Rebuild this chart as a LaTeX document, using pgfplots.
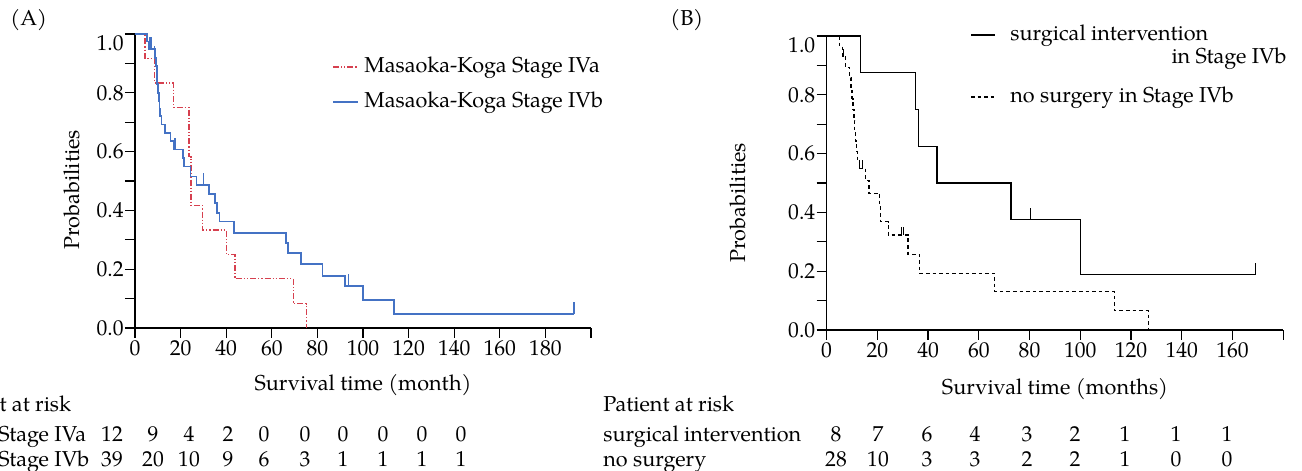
\documentclass[border=0pt]{standalone}
\usepackage{fontspec}
\setmainfont{texgyrepagella}[Extension=.otf,UprightFont=*-regular,BoldFont=*-bold,ItalicFont=*-italic,BoldItalicFont=*-bolditalic]
\usepackage{pgfplots}
\pgfplotsset{compat=1.18}
\definecolor{kmred}{RGB}{214,64,79}
\definecolor{kmblue}{RGB}{68,114,196}
\pgfdeclareplotmark{cens}{\pgfpathmoveto{\pgfpointorigin}\pgfpathlineto{\pgfpoint{0pt}{\pgfplotmarksize}}\pgfusepathqstroke}
\begin{document}
\fontsize{10.8}{13}\selectfont
\begin{tikzpicture}
\useasboundingbox (0,0) rectangle (651pt,235.5pt);
\pgfplotsset{kmaxis/.style={scale only axis, axis lines=left,
  axis line style={-, line width=0.65pt, black},
  tick align=outside, major tick length=5pt,
  tick style={line width=0.65pt, black},
  ymin=0, ymax=1,
  ytick={0,0.1,0.2,0.3,0.4,0.5,0.6,0.7,0.8,0.9,1},
  yticklabels={0.0,{},0.2,{},0.4,{},0.6,{},0.8,{},\raisebox{-4.5pt}[7.4pt][0pt]{1.0}},
  ticklabel style={font=\fontsize{10.8}{13}\selectfont},
  yticklabel style={inner sep=0.5pt},
  xticklabel style={inner sep=1pt},
  clip=false, height=147pt}}
% ---------- Panel A ----------
\begin{axis}[kmaxis, at={(67.5pt,71.5pt)}, anchor=south west, width=228pt,
  xmin=0, xmax=200, xtick={0,20,...,200},
  xticklabels={0,20,40,60,80,100,120,140,160,180,{}}]
\addplot[const plot, kmred, line width=0.6pt, dash pattern=on 3pt off 1pt on 0.6pt off 1pt on 0.6pt off 1pt]
 coordinates {(0,1)(4.4,0.917)(8.5,0.833)(17,0.75)(23.7,0.583)(24.6,0.417)(29.5,0.333)(40,0.25)(43.9,0.167)(69.4,0.083)(75.1,0)};
\addplot[const plot, kmblue, line width=0.85pt]
 coordinates {(0,1)(5.3,0.974)(6.0,0.948)(8.8,0.918)(9.2,0.89)(9.5,0.86)(9.8,0.83)(10.1,0.80)(10.4,0.77)(10.8,0.745)(11.1,0.72)(11.6,0.692)(13.3,0.663)(15.6,0.635)(17.1,0.607)(21.2,0.578)(21.5,0.549)(24.4,0.515)(27,0.486)(32.4,0.455)(35.1,0.424)(36.1,0.39)(37,0.362)(43.4,0.322)(66.3,0.29)(67.1,0.254)(72.8,0.217)(82.3,0.178)(92.1,0.143)(100.1,0.095)(113.7,0.048)(192.4,0.048)};
\addplot[only marks, mark=cens, mark size=6pt, mark options={solid, line width=0.85pt, kmblue}]
 coordinates {(6.4,0.948)(6.9,0.948)(8.6,0.918)(17.4,0.607)(30,0.486)(93.6,0.143)(192.4,0.048)};
\end{axis}
% ---------- Panel B ----------
\begin{axis}[kmaxis, at={(413.3pt,70.5pt)}, anchor=south west, width=228.3pt,
  xmin=0, xmax=180, xtick={0,20,...,180},
  xticklabels={0,20,40,60,80,100,120,140,160,{}}]
\addplot[const plot, black, line width=0.55pt]
 coordinates {(0,1)(13.4,0.875)(35.2,0.75)(36.2,0.625)(43.5,0.5)(72.7,0.375)(100.1,0.1875)(169.1,0.1875)};
\addplot[const plot, black, line width=0.55pt, dash pattern=on 1.8pt off 1.5pt]
 coordinates {(0,1)(5.2,0.964)(6.2,0.929)(7.5,0.893)(9.2,0.857)(9.6,0.821)(10.0,0.786)(10.4,0.75)(10.8,0.714)(11.1,0.679)(11.5,0.643)(11.9,0.607)(12.3,0.571)(13.0,0.55)(15.4,0.51)(16.7,0.465)(21,0.42)(21.3,0.368)(24.3,0.323)(32.1,0.258)(36.6,0.193)(66.3,0.13)(113.5,0.065)(126.9,0)};
\addplot[only marks, mark=cens, mark size=6pt, mark options={solid, line width=0.55pt, black}]
 coordinates {(80.3,0.375)(169.1,0.1875)};
\addplot[only marks, mark=cens, mark size=4pt, mark options={solid, line width=0.5pt, black}]
 coordinates {(6.5,0.929)(12.8,0.55)(14.2,0.55)(29.5,0.323)(30.5,0.323)};
\end{axis}
% ---------- labels ----------
\node[inner sep=0pt, anchor=mid west] at (5pt,225.5pt) {(A)};
\node[inner sep=0pt, anchor=mid west] at (335pt,225.5pt) {(B)};
\node[inner sep=0pt, rotate=90] at (36pt,140.5pt) {Probabilities};
\node[inner sep=0pt, rotate=90] at (369pt,134pt) {Probabilities};
\node[inner sep=0pt, anchor=mid] at (181.5pt,43pt) {Survival time (month)};
\node[inner sep=0pt, anchor=mid] at (527.5pt,41pt) {Survival time (months)};
% legend A
\draw[kmred, line width=0.6pt, dash pattern=on 3pt off 1pt on 0.6pt off 1pt on 0.6pt off 1pt] (166.5pt,202pt) -- (179pt,202pt);
\node[inner sep=0pt, anchor=mid west] at (182pt,202pt) {Masaoka-Koga Stage IVa};
\draw[kmblue, line width=0.85pt] (166.5pt,184.5pt) -- (179pt,184.5pt);
\node[inner sep=0pt, anchor=mid west] at (182pt,184.5pt) {Masaoka-Koga Stage IVb};
% legend B
\draw[black, line width=0.55pt] (485.5pt,218pt) -- (497.5pt,218pt);
\node[inner sep=0pt, anchor=mid west] at (505pt,218pt) {surgical intervention};
\node[inner sep=0pt, anchor=mid east] at (643.5pt,206.5pt) {in Stage IVb};
\draw[black, line width=0.55pt, dash pattern=on 1.8pt off 1.5pt] (485.5pt,187pt) -- (497.5pt,187pt);
\node[inner sep=0pt, anchor=mid west] at (505pt,187pt) {no surgery in Stage IVb};
% at-risk A
\node[inner sep=0pt, anchor=mid west] at (-30pt,32.5pt) {Patient at risk};
\node[inner sep=0pt, anchor=mid west] at (-1pt,17.5pt) {Stage IVa};
\node[inner sep=0pt, anchor=mid west] at (-1pt,5pt) {Stage IVb};
\foreach \x/\a/\b in {56/12/39, 76.5/9/20, 94.5/4/10, 114/2/9, 132/0/6, 152.5/0/3, 171.5/0/1, 191.5/0/1, 211/0/1, 230.5/0/1}{
  \node[inner sep=0pt, anchor=mid] at (\x pt,17.5pt) {\a};
  \node[inner sep=0pt, anchor=mid] at (\x pt,5pt) {\b};
}
% at-risk B
\node[inner sep=0pt, anchor=mid west] at (301.5pt,32.5pt) {Patient at risk};
\node[inner sep=0pt, anchor=mid west] at (301.5pt,17.5pt) {surgical intervention};
\node[inner sep=0pt, anchor=mid west] at (301.5pt,5pt) {no surgery};
\foreach \x/\a/\b in {418/8/28, 439/7/10, 463.5/6/3, 487.5/4/3, 513.5/3/2, 537.5/2/2, 562.5/1/1, 588/1/0, 613.5/1/0}{
  \node[inner sep=0pt, anchor=mid] at (\x pt,17.5pt) {\a};
  \node[inner sep=0pt, anchor=mid] at (\x pt,5pt) {\b};
}
\end{tikzpicture}
\end{document}
